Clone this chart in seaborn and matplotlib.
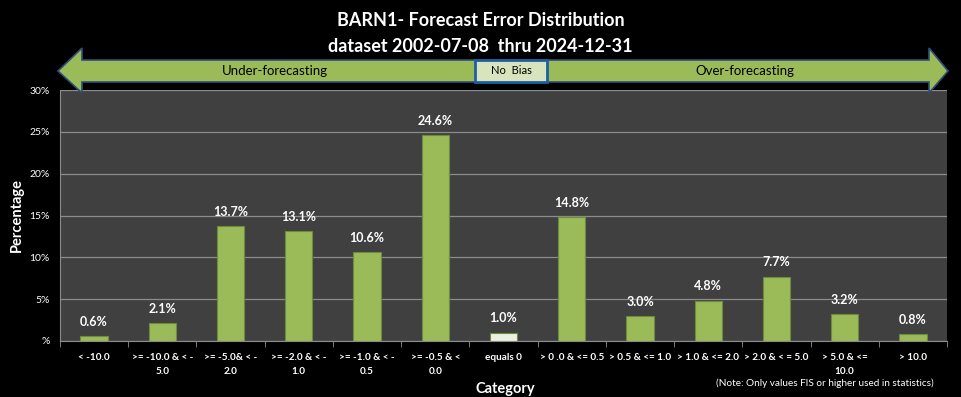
import matplotlib
matplotlib.use("Agg")
import matplotlib.pyplot as plt
from matplotlib.patches import Polygon, Rectangle
from matplotlib.ticker import FixedLocator, FuncFormatter
import seaborn as sns
import pandas as pd

categories = ["< -10.0", ">= -10.0 & < -\n5.0", ">= -5.0& < -\n2.0", ">= -2.0 & < -\n1.0",
              ">= -1.0 & < -\n0.5", ">= -0.5 & <\n0.0", "equals 0", "> 0 .0 & <= 0.5",
              "> 0.5 & <= 1.0", "> 1.0 & <= 2.0", "> 2.0 & < = 5.0", "> 5.0 & <=\n10.0", "> 10.0"]
percentages = [0.6, 2.1, 13.7, 13.1, 10.6, 24.6, 1.0, 14.8, 3.0, 4.8, 7.7, 3.2, 0.8]
bar_colors = ["#9BBB59"] * 6 + ["#EBF1DE"] + ["#9BBB59"] * 6

df = pd.DataFrame({"category": categories, "pct": percentages})

sns.set_style("dark")
plt.rcParams["font.family"] = ["Lato", "DejaVu Sans"]

W, H = 961, 397
fig = plt.figure(figsize=(W / 100, H / 100), dpi=100, facecolor="black")
ax = fig.add_axes([60 / W, 1 - 341 / H, 887 / W, 251 / H])
ax.set_facecolor("#404040")

sns.barplot(data=df, x="category", y="pct", hue="category", palette=bar_colors,
            legend=False, width=0.4, saturation=1, edgecolor="#6E8B3D", linewidth=0.8, ax=ax)

for i, v in enumerate(percentages):
    ax.text(i, v + 1.0, f"{v:.1f}%", ha="center", va="bottom", color="white",
            fontsize=9, fontweight="bold")

ax.set_ylim(0, 30)
ax.set_xlim(-0.5, len(categories) - 0.5)
ax.yaxis.set_major_locator(FixedLocator([0, 5, 10, 15, 20, 25, 30]))
ax.yaxis.set_major_formatter(FuncFormatter(lambda v, p: "%" if v == 0 else f"{v:.0f}%"))
ax.grid(axis="y", color="#8C8C8C", linewidth=0.9)
ax.grid(axis="x", visible=False)
ax.set_axisbelow(True)
for s in ["top", "right"]:
    ax.spines[s].set_visible(False)
ax.spines["left"].set_color("#8C8C8C")
ax.spines["bottom"].set_color("#8C8C8C")

ax.set_xticks(range(len(categories)))
ax.set_xticklabels(categories, color="white", fontsize=7.2, fontweight="bold", linespacing=1.65)
ax.xaxis.set_minor_locator(FixedLocator([i - 0.5 for i in range(len(categories) + 1)]))
ax.tick_params(axis="x", which="major", length=0, pad=9)
ax.tick_params(axis="x", which="minor", length=4, color="#8C8C8C", bottom=True)
ax.tick_params(axis="y", colors="white", labelsize=7.5, length=4, width=0.8)
ax.tick_params(axis="y", color="#8C8C8C")

ax.set_xlabel("Category", color="white", fontsize=10.5, fontweight="bold")
ax.xaxis.set_label_coords((505 - 60) / 887, -0.165)
ax.set_ylabel("Percentage", color="white", fontsize=10.5, fontweight="bold")
ax.yaxis.set_label_coords(-36 / 887, 0.5)

# titles
fig.text(0.5, 1 - 20 / H, "BARN1- Forecast Error Distribution", ha="center", va="center",
         color="white", fontsize=13, fontweight="bold")
fig.text(0.5, 1 - 46 / H, "dataset 2002-07-08  thru 2024-12-31", ha="center", va="center",
         color="white", fontsize=13, fontweight="bold")

# double-headed arrow in pixel coordinates
pts = [(58, 71), (82, 48), (82, 60), (929, 60), (929, 48), (948, 71),
       (929, 93), (929, 82), (82, 82), (82, 93)]
arrow = Polygon([(x / W, 1 - y / H) for x, y in pts], closed=True, transform=fig.transFigure,
                facecolor="#9BBB59", edgecolor="#2E4F7A", linewidth=1.2)
fig.patches.append(arrow)
box = Rectangle((475 / W, 1 - 82 / H), 72 / W, 22 / H, transform=fig.transFigure,
                facecolor="#D7E4BD", edgecolor="#1F5FA0", linewidth=2)
fig.patches.append(box)
fig.text(275 / W, 1 - 71 / H, "Under-forecasting", ha="center", va="center", color="black", fontsize=9.5)
fig.text(745 / W, 1 - 71 / H, "Over-forecasting", ha="center", va="center", color="black", fontsize=9.5)
fig.text(511 / W, 1 - 71 / H, "No  Bias", ha="center", va="center", color="black", fontsize=8)

fig.text(825 / W, 1 - 383 / H, "(Note: Only values FIS or higher used in statistics)",
         ha="center", va="center", color="white", fontsize=7.2)

fig.savefig("out.png", dpi=100, facecolor="black")
